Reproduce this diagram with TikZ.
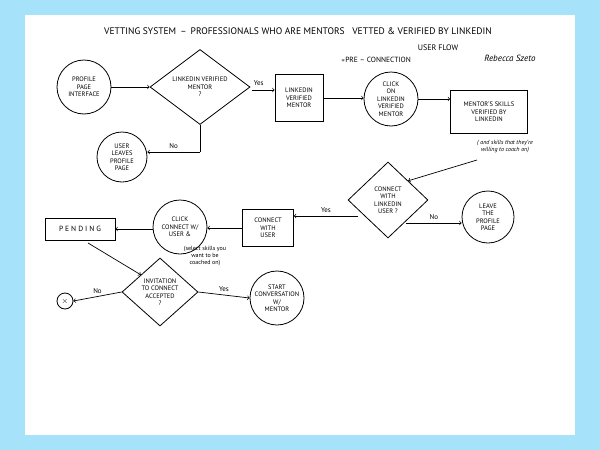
\documentclass[tikz,border=0pt]{standalone}
\usepackage{fontspec}
\setmainfont{PT Sans}
\usetikzlibrary{shapes.geometric}
\begin{document}
\begin{tikzpicture}[x=1pt,y=-1pt,
  every node/.style={font=\fontsize{6.5}{7.5}\selectfont,align=center,inner sep=0pt},
  circ/.style={draw,circle,line width=0.8pt},
  box/.style={draw,rectangle,line width=0.8pt},
  dia/.style={draw,diamond,line width=0.8pt},
  arr/.style={->,line width=0.7pt},
  lab/.style={font=\fontsize{7}{8}\selectfont}]
\fill[cyan!35!white] (0,0) rectangle (600,450);
\fill[white] (25,15) rectangle (575,435);
\useasboundingbox (0,0) rectangle (600,450);
\node[font=\fontsize{9.5}{10}\selectfont] (title) at (298,31) {VETTING SYSTEM \,--\, PROFESSIONALS WHO ARE MENTORS \ \ VETTED \& VERIFIED BY LINKEDIN};
\node[font=\fontsize{8}{9}\selectfont] (uf) at (438,48) {USER FLOW};
\node[font=\fontsize{7.5}{9}\selectfont] (pre) at (376,60) {$\ast$PRE -- CONNECTION};
\node[font=\fontsize{9}{10}\itshape\selectfont] (auth) at (510,58) {Rebecca Szeto};

\node[circ,minimum size=54] (pp) at (84,87) {PROFILE\\PAGE\\INTERFACE};
\node[dia,minimum width=100,minimum height=75] (d1) at (200,87) {LINKEDIN VERIFIED\\MENTOR\\?};
\node[box,minimum width=48,minimum height=47] (b1) at (299,98) {LINKEDIN\\VERIFIED\\MENTOR};
\node[circ,minimum size=54] (c1) at (391,99) {CLICK\\ON\\LINKEDIN\\VERIFIED\\MENTOR};
\node[box,minimum width=77,minimum height=43] (b2) at (489,112) {MENTOR'S SKILLS\\VERIFIED BY\\LINKEDIN};
\node[font=\fontsize{6}{7}\itshape\selectfont] (note1) at (505,147) {( and skills that they're\\willing to coach on)};
\node[circ,minimum size=50] (c2) at (122,157) {USER\\LEAVES\\PROFILE\\PAGE};
\coordinate (k1) at (200,152);
\coordinate (y1) at (252,90);

\node[dia,minimum width=80,minimum height=76] (d2) at (388,200) {CONNECT\\WITH\\LINKEDIN\\USER ?};
\node[circ,minimum size=52] (c3) at (488,217) {LEAVE\\THE\\PROFILE\\PAGE};
\node[box,minimum width=51,minimum height=37] (b3) at (268,228) {CONNECT\\WITH\\USER};
\node[circ,minimum size=54] (c4) at (180,227) {CLICK\\CONNECT W/\\USER \&};
\node[font=\fontsize{6}{7}\selectfont] (note2) at (205,256) {(select skills you\\want to be\\coached on)};
\node[box,minimum width=70,minimum height=22,font=\fontsize{7.5}{9}\selectfont] (b4) at (80,229) {P E N D I N G};
\node[dia,minimum width=76,minimum height=68] (d3) at (160,292) {INVITATION\\TO CONNECT\\ACCEPTED\\?};
\node[circ,minimum size=16,font=\fontsize{8}{9}\selectfont] (x) at (65,301) {$\times$};
\node[circ,minimum size=54] (c5) at (277,298) {START\\CONVERSATION\\W/\\MENTOR};
\coordinate (n2) at (406,223);
\coordinate (y2) at (358,216);
\coordinate (p2) at (88,243);
\coordinate (s2) at (477,160);

\draw[arr] (pp) -- (d1);
\draw[arr] (y1) -- node[lab,above=4pt,pos=0.3]{Yes} (b1.west |- y1);
\draw[arr] (b1) -- (c1.west |- b1);
\draw[arr] (c1) -- (b2.west |- c1);
\draw[line width=0.7pt] (d1.south) -- (k1);
\draw[arr] (k1) -- node[lab,above=3pt]{No} (c2.east |- k1);
\draw[arr] (s2) -- (d2.north east);
\draw[arr] (y2) -- node[lab,above=3pt]{Yes} (b3.east |- y2);
\draw[arr] (n2) -- node[lab,above=3pt]{No} (c3.west |- n2);
\draw[arr] (b3.west) -- (c4.east |- b3.west);
\draw[arr] (c4.west |- b4.east) -- (b4.east);
\draw[arr] (p2) -- (d3.north west);
\draw[arr] (d3.west) -- node[lab,above=3pt]{No} (x.east);
\draw[arr] (d3.east) -- node[lab,above=3pt]{Yes} (c5.west);
\end{tikzpicture}
\end{document}
